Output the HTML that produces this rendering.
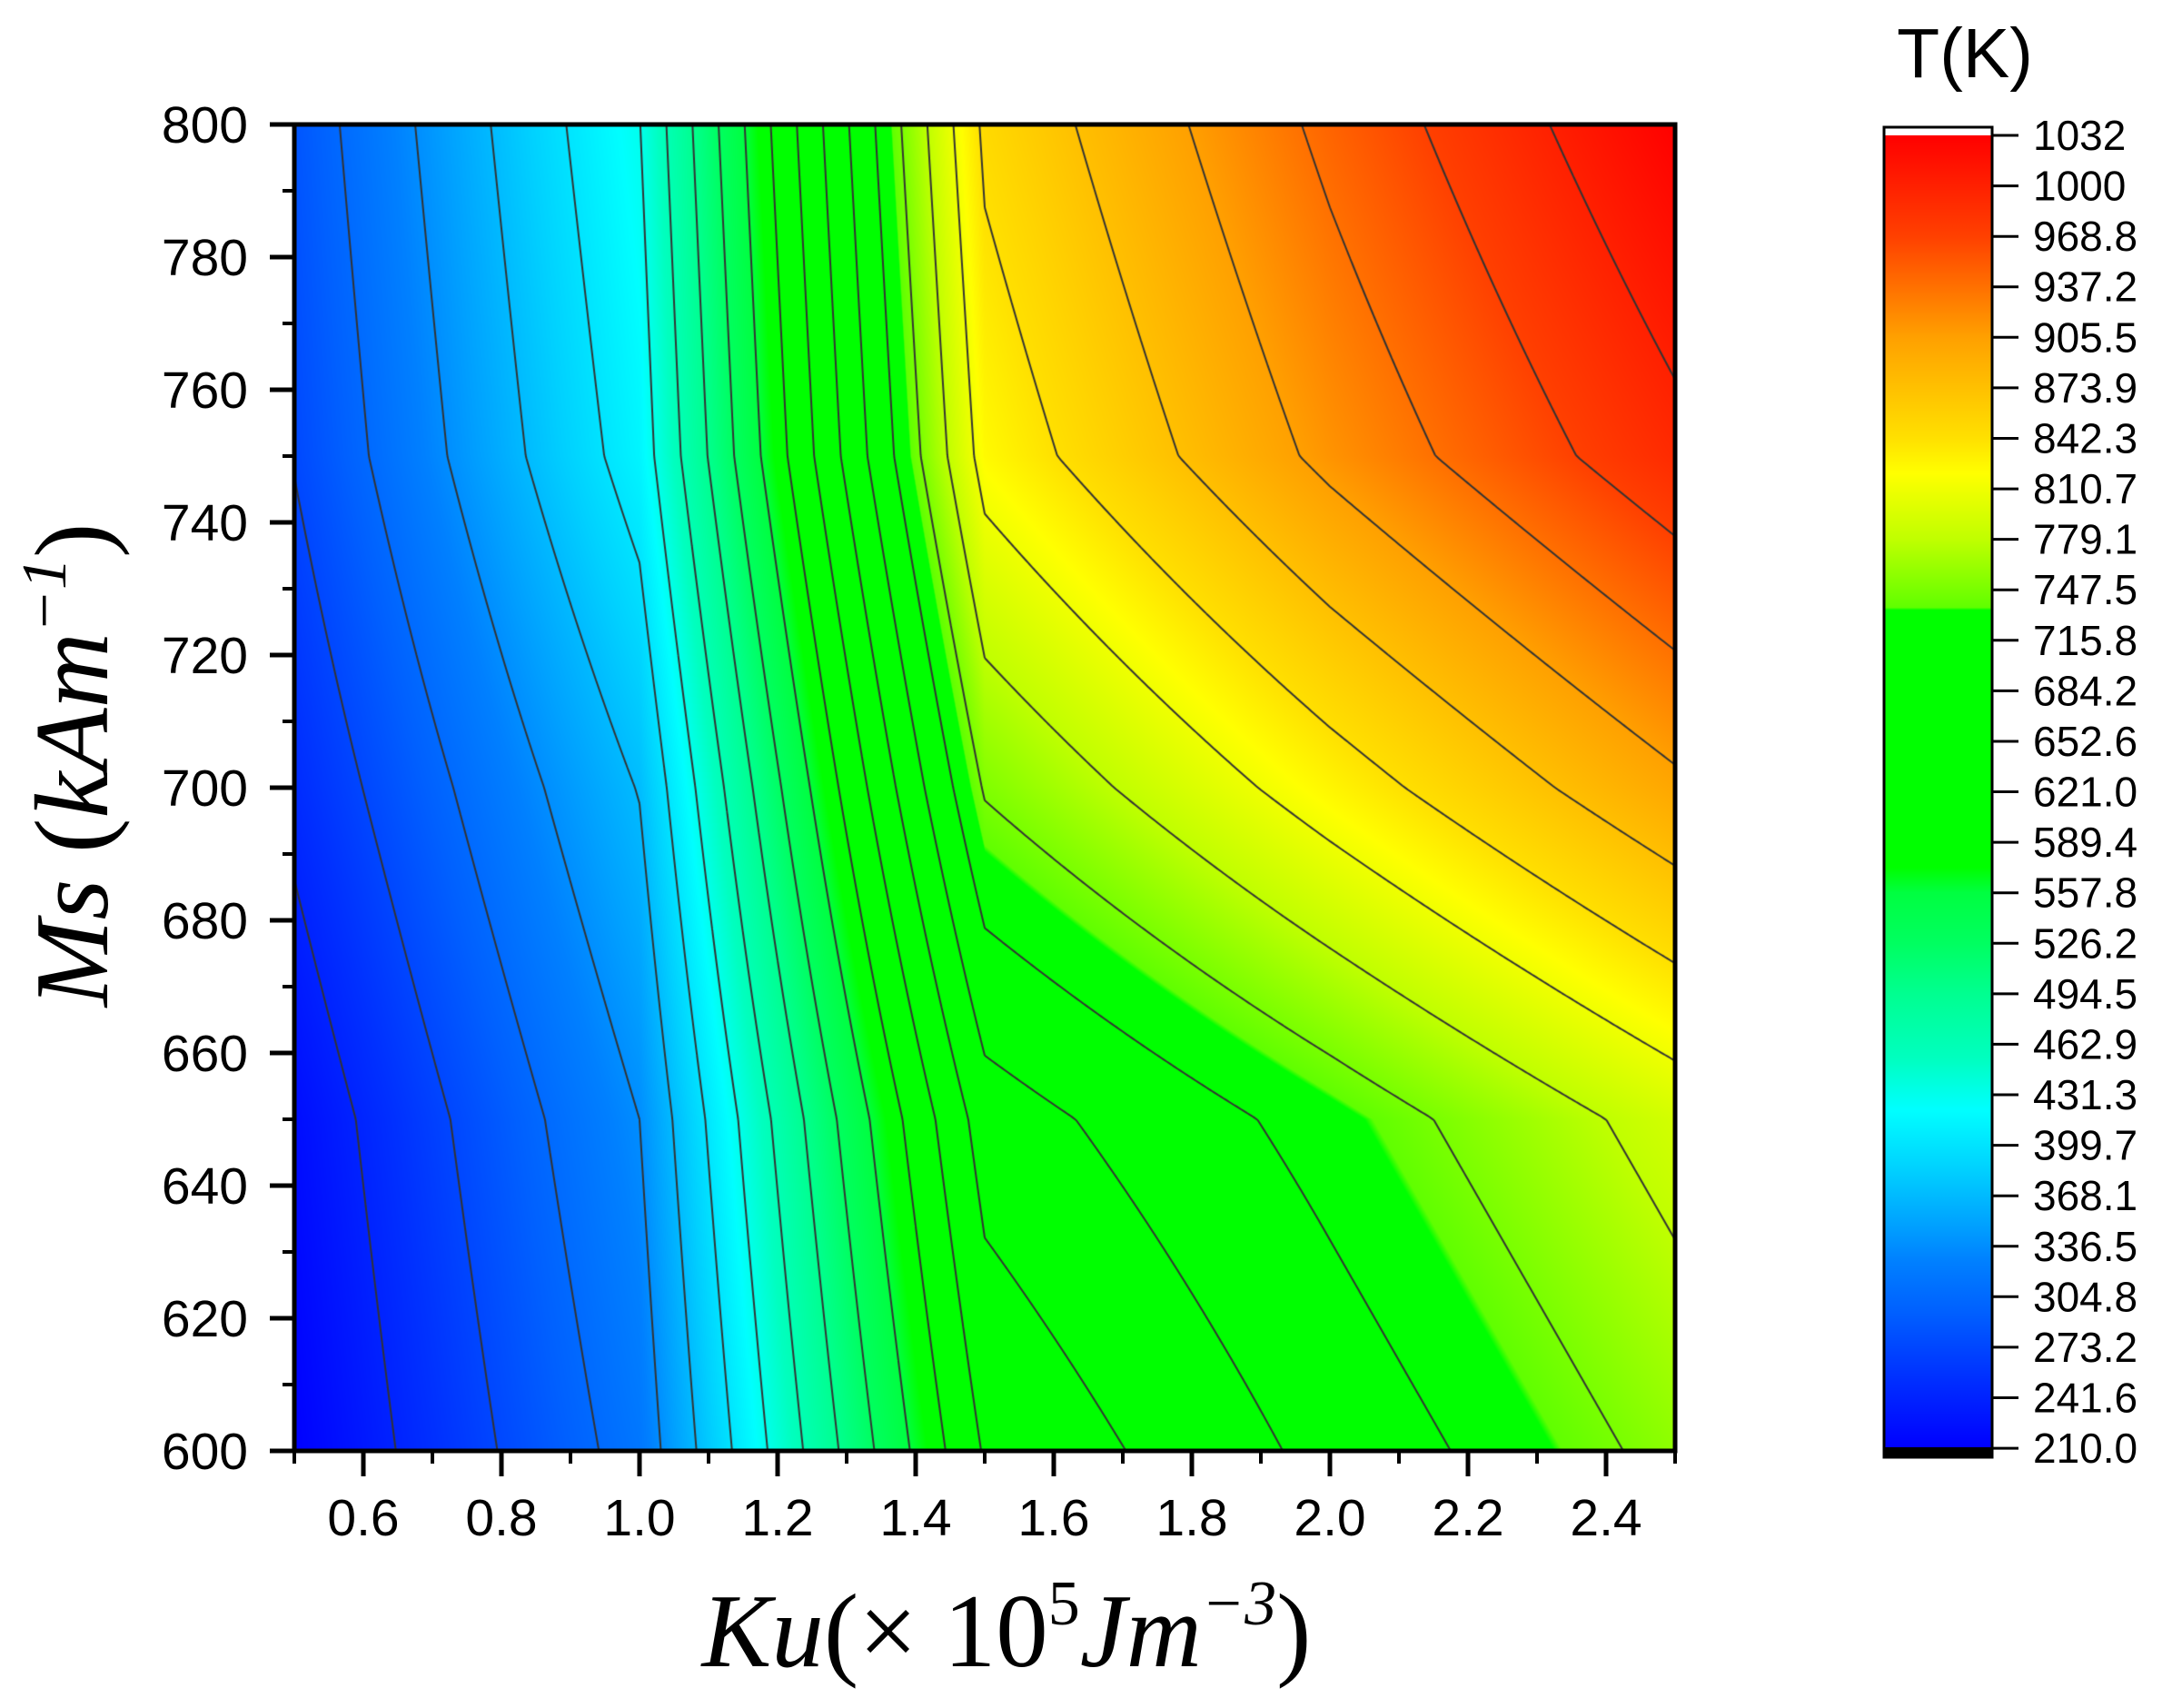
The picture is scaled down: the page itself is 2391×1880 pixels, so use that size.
<!DOCTYPE html>
<html><head><meta charset="utf-8"><style>
html,body{margin:0;padding:0;background:#fff;}
#wrap{position:relative;width:2391px;height:1880px;overflow:hidden;background:#fff;}
canvas{position:absolute;left:324px;top:137px;}
svg{position:absolute;left:0;top:0;}
</style></head><body><div id="wrap">
<canvas id="c" width="1520" height="1460"></canvas>
<svg width="2391" height="1880" xmlns="http://www.w3.org/2000/svg" font-family="Liberation Sans, sans-serif">
<defs>
<linearGradient id="cb" gradientUnits="userSpaceOnUse" x1="0" y1="149" x2="0" y2="1594">
<stop offset="0" stop-color="#ff0000"/>
<stop offset="0.0769" stop-color="#ff4000"/>
<stop offset="0.1154" stop-color="#ff7000"/>
<stop offset="0.1538" stop-color="#ffa000"/>
<stop offset="0.1923" stop-color="#ffc000"/>
<stop offset="0.2308" stop-color="#ffe000"/>
<stop offset="0.2577" stop-color="#ffff00"/>
<stop offset="0.2692" stop-color="#f0ff00"/>
<stop offset="0.3077" stop-color="#c0ff00"/>
<stop offset="0.3423" stop-color="#80ff00"/>
<stop offset="0.3596" stop-color="#60ff00"/>
<stop offset="0.3616" stop-color="#00ff00"/>
<stop offset="0.5577" stop-color="#00ff00"/>
<stop offset="0.5769" stop-color="#00ff40"/>
<stop offset="0.6154" stop-color="#00ff60"/>
<stop offset="0.6538" stop-color="#00ff90"/>
<stop offset="0.7038" stop-color="#00ffc0"/>
<stop offset="0.7423" stop-color="#00ffff"/>
<stop offset="0.7885" stop-color="#00d0ff"/>
<stop offset="0.8308" stop-color="#00a0ff"/>
<stop offset="0.8577" stop-color="#0080ff"/>
<stop offset="0.8962" stop-color="#0060ff"/>
<stop offset="0.9462" stop-color="#0030ff"/>
<stop offset="1" stop-color="#0000ff"/>
</linearGradient>
</defs>
<rect x="324" y="137" width="1520" height="1460" fill="none" stroke="#000" stroke-width="5"/>
<path stroke="#000" stroke-width="5" fill="none" d="M297 137H324M297 283H324M297 429H324M297 575H324M297 721H324M297 867H324M297 1013H324M297 1159H324M297 1305H324M297 1451H324M297 1597H324"/>
<path stroke="#000" stroke-width="4" fill="none" d="M311 210H324M311 356H324M311 502H324M311 648H324M311 794H324M311 940H324M311 1086H324M311 1232H324M311 1378H324M311 1524H324"/>
<g font-size="57" text-anchor="end" fill="#000">
<text x="273" y="157">800</text><text x="273" y="303">780</text><text x="273" y="449">760</text><text x="273" y="595">740</text><text x="273" y="741">720</text><text x="273" y="887">700</text><text x="273" y="1033">680</text><text x="273" y="1179">660</text><text x="273" y="1325">640</text><text x="273" y="1471">620</text><text x="273" y="1617">600</text>
</g>
<path stroke="#000" stroke-width="5" fill="none" d="M400 1597V1625M552 1597V1625M704 1597V1625M856 1597V1625M1008 1597V1625M1160 1597V1625M1312 1597V1625M1464 1597V1625M1616 1597V1625M1768 1597V1625"/>
<path stroke="#000" stroke-width="4" fill="none" d="M324 1597V1611M476 1597V1611M628 1597V1611M780 1597V1611M932 1597V1611M1084 1597V1611M1236 1597V1611M1388 1597V1611M1540 1597V1611M1692 1597V1611M1844 1597V1611"/>
<g font-size="57" text-anchor="middle" fill="#000">
<text x="400" y="1690">0.6</text><text x="552" y="1690">0.8</text><text x="704" y="1690">1.0</text><text x="856" y="1690">1.2</text><text x="1008" y="1690">1.4</text><text x="1160" y="1690">1.6</text><text x="1312" y="1690">1.8</text><text x="1464" y="1690">2.0</text><text x="1616" y="1690">2.2</text><text x="1768" y="1690">2.4</text>
</g>
<text x="1108" y="1834" text-anchor="middle" font-family="Liberation Serif, serif" font-size="115" fill="#000"><tspan font-style="italic">Ku</tspan>(× 10<tspan font-size="70" dy="-46">5</tspan><tspan dy="46" font-style="italic">Jm</tspan><tspan font-size="70" dy="-46" font-style="italic">−3</tspan><tspan dy="46">)</tspan></text>
<text transform="translate(118,842) rotate(-90)" x="0" y="0" text-anchor="middle" font-family="Liberation Serif, serif" font-size="115" fill="#000"><tspan font-style="italic">Ms</tspan> (<tspan font-style="italic">kAm</tspan><tspan font-size="70" dy="-46" font-style="italic">−1</tspan><tspan dy="46">)</tspan></text>
<text x="2163" y="85" text-anchor="middle" font-size="77" fill="#000">T(K)</text>
<rect x="2075" y="139" width="117" height="20" fill="#fff"/>
<rect x="2075" y="149" width="117" height="1445" fill="url(#cb)"/>
<rect x="2075" y="1593" width="117" height="11" fill="#000"/>
<rect x="2074" y="140" width="119" height="1464" fill="none" stroke="#000" stroke-width="3"/>
<path stroke="#000" stroke-width="3" fill="none" d="M2192 149H2222M2192 204.6H2222M2192 260.2H2222M2192 315.7H2222M2192 371.3H2222M2192 426.9H2222M2192 482.5H2222M2192 538.1H2222M2192 593.6H2222M2192 649.2H2222M2192 704.8H2222M2192 760.4H2222M2192 816H2222M2192 871.5H2222M2192 927.1H2222M2192 982.7H2222M2192 1038.3H2222M2192 1093.9H2222M2192 1149.4H2222M2192 1205H2222M2192 1260.6H2222M2192 1316.2H2222M2192 1371.8H2222M2192 1427.3H2222M2192 1482.9H2222M2192 1538.5H2222M2192 1594.1H2222"/>
<g font-size="46" fill="#000">
<text x="2238" y="165">1032</text><text x="2238" y="220.6">1000</text><text x="2238" y="276.2">968.8</text><text x="2238" y="331.7">937.2</text><text x="2238" y="387.3">905.5</text><text x="2238" y="442.9">873.9</text><text x="2238" y="498.5">842.3</text><text x="2238" y="554.1">810.7</text><text x="2238" y="609.6">779.1</text><text x="2238" y="665.2">747.5</text><text x="2238" y="720.8">715.8</text><text x="2238" y="776.4">684.2</text><text x="2238" y="832">652.6</text><text x="2238" y="887.5">621.0</text><text x="2238" y="943.1">589.4</text><text x="2238" y="998.7">557.8</text><text x="2238" y="1054.3">526.2</text><text x="2238" y="1109.9">494.5</text><text x="2238" y="1165.4">462.9</text><text x="2238" y="1221">431.3</text><text x="2238" y="1276.6">399.7</text><text x="2238" y="1332.2">368.1</text><text x="2238" y="1387.8">336.5</text><text x="2238" y="1443.3">304.8</text><text x="2238" y="1498.9">273.2</text><text x="2238" y="1554.5">241.6</text><text x="2238" y="1610.1">210.0</text>
</g>
</svg>
</div>
<script>
(function(){
var W=1520,H=1460;
var ku=[0.5,1,1.5,2,2.5], ms=[600,650,700,750,800];
var G=[[0,3.4,13.1,15.3,17.3],[0.35,4.0,14.5,16.4,18.4],[1.25,5.05,17.1,19.5,21.8],[2.05,6.45,19.4,22.25,24.7],[2.4,6.97,20.2,23.25,26.0]];
function f(px,py){var K=0.5+px/760,M=800-py/7.3;
var i=Math.min(3,Math.max(0,Math.floor((K-0.5)/0.5)));var j=Math.min(3,Math.max(0,Math.floor((M-600)/50)));
var u=(K-ku[i])/0.5,v=(M-ms[j])/50;
return G[j][i]*(1-u)*(1-v)+G[j][i+1]*u*(1-v)+G[j+1][i]*(1-u)*v+G[j+1][i+1]*u*v;}
var S=[[0,0,0,255],[1.4,0,48,255],[2.7,0,96,255],[3.7,0,128,255],[4.4,0,160,255],[5.5,0,208,255],[6.7,0,255,255],[7.7,0,255,192],[9,0,255,144],[10,0,255,96],[11,0,255,64],[11.5,0,255,0],[16.6,0,255,0],[16.65,96,255,0],[17.1,128,255,0],[18,192,255,0],[19,240,255,0],[19.3,255,255,0],[20,255,224,0],[21,255,192,0],[22,255,160,0],[23,255,112,0],[24,255,64,0],[26,255,0,0]];
function cm(L){if(L<=S[0][0])return S[0];for(var k=1;k<S.length;k++){if(L<=S[k][0]){var a=S[k-1],b=S[k],t=(L-a[0])/(b[0]-a[0]);return [0,a[1]+(b[1]-a[1])*t,a[2]+(b[2]-a[2])*t,a[3]+(b[3]-a[3])*t];}}return S[S.length-1];}
var c=document.getElementById('c'),ctx=c.getContext('2d');
var img=ctx.createImageData(W,H),d=img.data;
for(var y=0;y<H;y++)for(var x=0;x<W;x++){var col=cm(f(x+0.5,y+0.5));var p=(y*W+x)*4;d[p]=col[1];d[p+1]=col[2];d[p+2]=col[3];d[p+3]=255;}
ctx.putImageData(img,0,0);
var s=4,nx=W/s,ny=Math.ceil(H/s);var V=[];
for(var j=0;j<=ny;j++){V[j]=[];for(var i=0;i<=nx;i++)V[j][i]=f(i*s,Math.min(H,j*s));}
ctx.strokeStyle='#333';ctx.lineWidth=2;ctx.beginPath();
for(var lv=1;lv<=25;lv++){
for(var j=0;j<ny;j++)for(var i=0;i<nx;i++){
var x0=i*s,y0=j*s,x1=x0+s,y1=Math.min(H,y0+s);
var a=V[j][i],b=V[j][i+1],cc=V[j+1][i+1],dd=V[j+1][i];
var pts=[];
if((a<lv)!=(b<lv))pts.push([x0+(lv-a)/(b-a)*s,y0]);
if((b<lv)!=(cc<lv))pts.push([x1,y0+(lv-b)/(cc-b)*(y1-y0)]);
if((dd<lv)!=(cc<lv))pts.push([x0+(lv-dd)/(cc-dd)*s,y1]);
if((a<lv)!=(dd<lv))pts.push([x0,y0+(lv-a)/(dd-a)*(y1-y0)]);
if(pts.length>=2){ctx.moveTo(pts[0][0],pts[0][1]);ctx.lineTo(pts[1][0],pts[1][1]);}
if(pts.length==4){ctx.moveTo(pts[2][0],pts[2][1]);ctx.lineTo(pts[3][0],pts[3][1]);}
}}
ctx.stroke();
})();
</script>
</body></html>
